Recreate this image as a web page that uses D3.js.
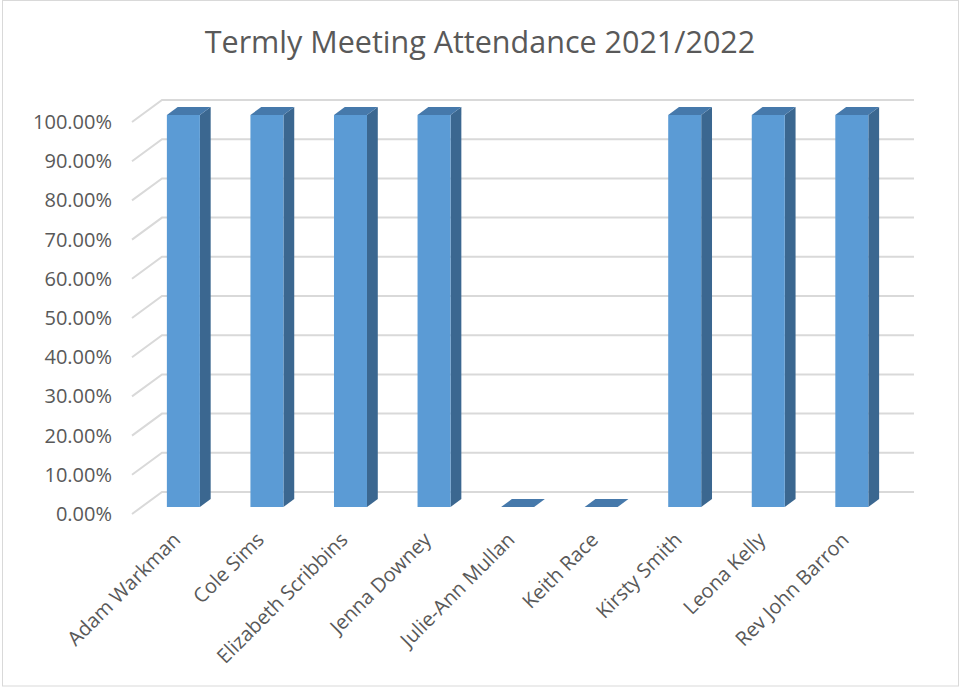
<!DOCTYPE html>
<html>
<head>
<meta charset="utf-8">
<script src="https://cdn.jsdelivr.net/npm/d3@7"></script>
<style>
  html, body { margin: 0; padding: 0; background: #fff; }
  svg { display: block; }
  text { font-family: "Open Sans", sans-serif; fill: #595959; }
</style>
</head>
<body>
<svg id="chart" width="960" height="687"></svg>
<script>
const title = "Termly Meeting Attendance 2021/2022";
const categories = ["Adam Warkman", "Cole Sims", "Elizabeth Scribbins", "Jenna Downey",
  "Julie-Ann Mullan", "Keith Race", "Kirsty Smith", "Leona Kelly", "Rev John Barron"];
const attendance = [1, 1, 1, 1, 0, 0, 1, 1, 1];
const yTicks = [0, 0.1, 0.2, 0.3, 0.4, 0.5, 0.6, 0.7, 0.8, 0.9, 1.0];

const svg = d3.select("#chart");
const W = 960, H = 687;

// chart border
svg.append("rect").attr("x", 2.5).attr("y", 0.5).attr("width", W - 4).attr("height", H - 1.5)
  .attr("fill", "#fff").attr("stroke", "#d9d9d9").attr("stroke-width", 1);

// title
svg.append("text").attr("x", 480).attr("y", 53).attr("text-anchor", "middle")
  .style("font-size", "30.5px").text(title);

// 3D projection: depth vector
const DX = 30, DY = -22;
const x = d3.scaleBand().domain(categories).range([132, 884]).paddingInner(0.605).paddingOuter(0.3025);
const y = d3.scaleLinear().domain([0, 1]).range([514, 122]);
const P = (px, py, z) => [px + z * DX, py + z * DY];

const fmt = d3.format(".2%");

// gridlines (back wall + left floor diagonal)
const grid = svg.append("g").attr("stroke", "#d9d9d9").attr("stroke-width", 2).attr("fill", "none");
yTicks.forEach(t => {
  const f = P(132, y(t), 0), b = P(132, y(t), 1), e = P(884, y(t), 1);
  grid.append("polyline").attr("points", [f, b, e].map(p => p.join(",")).join(" "));
});

// y-axis labels
svg.append("g").selectAll("text").data(yTicks).join("text")
  .attr("x", 112).attr("y", d => y(d)).attr("dy", "0.35em").attr("text-anchor", "end")
  .style("font-size", "20px").text(d => fmt(d));

// bars
const z0 = 0.32, z1 = 0.68;
const bw = x.bandwidth();
const bars = svg.append("g");
categories.forEach((c, i) => {
  const v = attendance[i];
  const xl = x(c), xr = xl + bw, yt = y(v), yb = y(0);
  const g = bars.append("g");
  const poly = (pts, fill) => g.append("polygon").attr("points", pts.map(p => p.join(",")).join(" ")).attr("fill", fill);
  if (v > 0) {
    // side face
    poly([P(xr, yb, z0), P(xr, yb, z1), P(xr, yt, z1), P(xr, yt, z0)], "#3b6790");
    // front face
    poly([P(xl, yb, z0), P(xr, yb, z0), P(xr, yt, z0), P(xl, yt, z0)], "#5b9bd5");
  }
  // top face
  poly([P(xl, yt, z0), P(xr, yt, z0), P(xr, yt, z1), P(xl, yt, z1)], "#4679ab");
});

// category labels
svg.append("g").selectAll("text").data(categories).join("text")
  .attr("transform", d => `translate(${x(d) + bw / 2 + 8},541) rotate(-45)`)
  .attr("text-anchor", "end").style("font-size", "20px").text(d => d);
</script>
</body>
</html>
